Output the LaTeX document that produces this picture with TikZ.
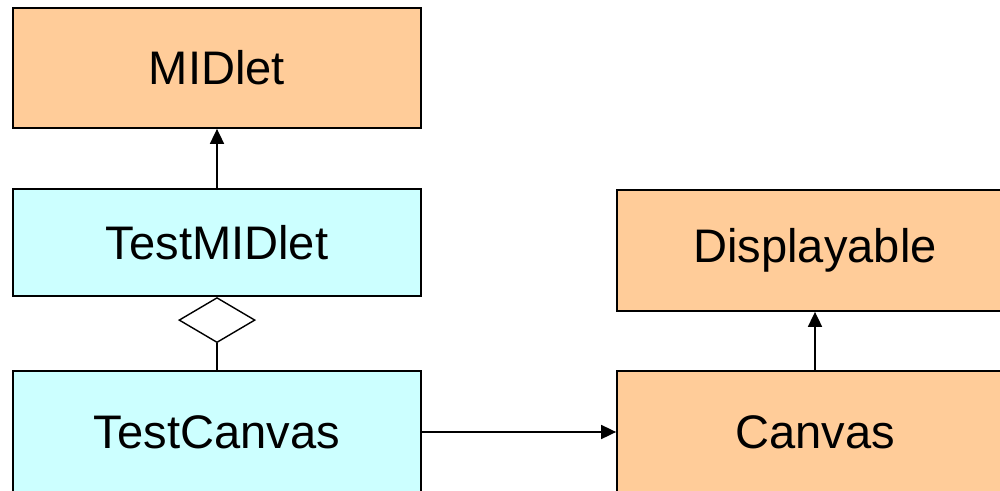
\documentclass[tikz,border=0pt]{standalone}
\usepackage{fontspec}
\setmainfont{Liberation Sans}
\usetikzlibrary{arrows.meta,shapes.geometric}
\definecolor{libclass}{HTML}{FFCC99}
\definecolor{ownclass}{HTML}{CCFFFF}

\begin{document}
\begin{tikzpicture}[box/.style={draw,line width=1pt,inner sep=0pt,font=\fontsize{26.8}{32}\selectfont},
  lib/.style={box,fill=libclass}, own/.style={box,fill=ownclass},
  inherit/.style={-{Triangle[length=0.3cm,width=0.28cm]},line width=1pt},
  agg/.style={diamond,draw,line width=0.8pt,fill=white,inner sep=0pt,minimum width=1.52cm,minimum height=0.9cm}]
  \clip (0,0) rectangle (20,9.8);
  \useasboundingbox (0,0) rectangle (20,9.8);

  % Classes
  \node[lib,minimum width=8.16cm,minimum height=2.4cm] (midlet) at (4.34,8.44) {MIDlet};
  \node[own,minimum width=8.16cm,minimum height=2.14cm] (testmidlet) at (4.34,4.95) {TestMIDlet};
  \node[own,minimum width=8.16cm,minimum height=2.44cm] (testcanvas) at (4.34,1.16) {TestCanvas};
  \node[lib,minimum width=7.92cm,minimum height=2.42cm] (displayable) at (16.3,4.79) {Displayable};
  \node[lib,minimum width=7.92cm,minimum height=2.44cm] (canvas) at (16.3,1.16) {Canvas};

  % Aggregation
  \node[agg,anchor=north] (diam) at (testmidlet.south) {};
  \draw[line width=1pt] (diam.south) -- (testcanvas.north);

  % Relations
  \draw[inherit] (testmidlet) -- (midlet);
  \draw[inherit] (canvas) -- (displayable);
  \draw[inherit] (testcanvas) -- (canvas);
\end{tikzpicture}
\end{document}
